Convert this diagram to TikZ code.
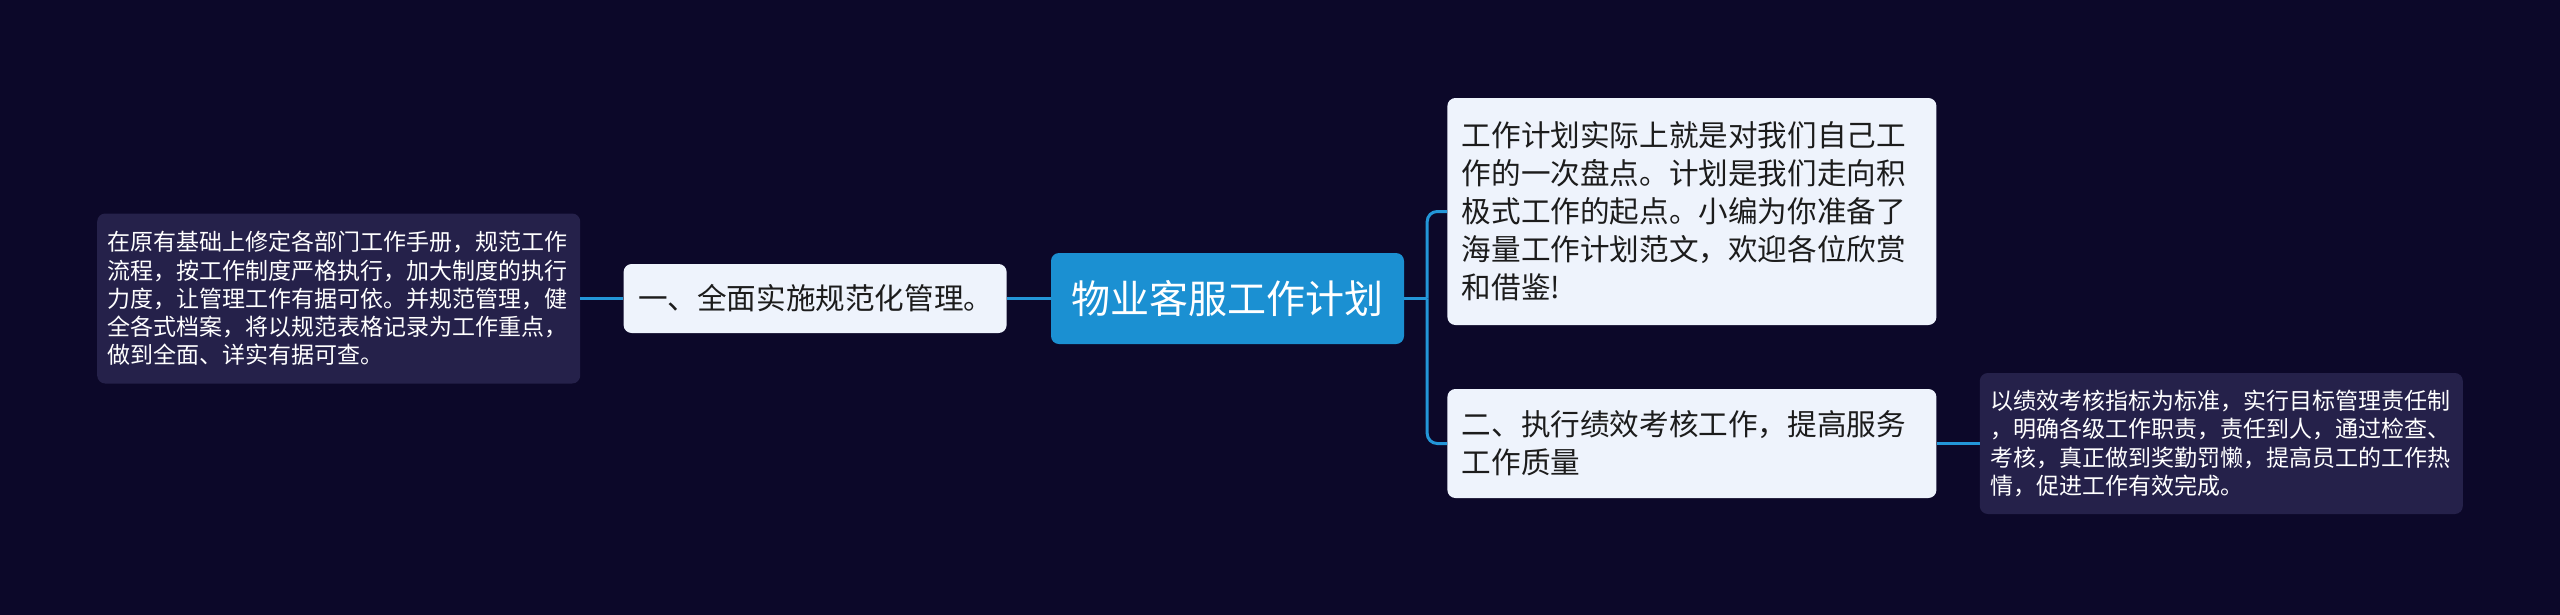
\documentclass[tikz,border=0pt]{standalone}
\usepackage{fontspec}
\setmainfont{Noto Sans CJK SC}
\usepackage{tikz}
\usetikzlibrary{positioning}

\definecolor{bgdark}{HTML}{0C0829}
\definecolor{mainblue}{HTML}{1B90D2}
\definecolor{linkblue}{HTML}{2396D8}
\definecolor{topicfill}{HTML}{EEF3FC}
\definecolor{leaffill}{HTML}{25214A}
\definecolor{topictext}{HTML}{1C1C1C}

\begin{document}
\begin{tikzpicture}[
        x=1pt,
        y=1pt,
        main/.style={
            rectangle,
            rounded corners=8pt,
            fill=mainblue,
            text=white,
            align=center,
            font={\fontsize{39}{46}\selectfont},
            minimum width=353pt,
            minimum height=91pt
        },
        topic/.style={
            rectangle,
            rounded corners=8pt,
            fill=topicfill,
            text=topictext,
            align=left,
            font={\fontsize{29.6}{38}\selectfont},
            text width=460pt,
            inner xsep=14.5pt,
            inner ysep=4pt
        },
        leaf/.style={
            rectangle,
            rounded corners=8pt,
            fill=leaffill,
            text=white,
            align=left,
            font={\fontsize{23}{28.3}\selectfont},
            text width=462pt,
            inner xsep=10.5pt,
            inner ysep=4pt
        },
        link/.style={
            draw=linkblue,
            line width=3pt
        }
    ]

    % background
    \useasboundingbox (0,0) rectangle (2560,-614);
    \fill[bgdark] (-4,4) rectangle (2564,-618);

    % main node
    \node[main] (plan) at (1227.5,-298.5) {物业客服工作计划};

    % left side
    \node[topic, text width=354pt, minimum height=69pt, left=44pt of plan] (norm)
    {一、全面实施规范化管理。};

    \node[leaf, minimum height=170pt, left=43pt of norm] (normleaf)
    {
        在原有基础上修定各部门工作手册，规范工作\\
        流程，按工作制度严格执行，加大制度的执行\\
        力度，让管理工作有据可依。并规范管理，健\\
        全各式档案，将以规范表格记录为工作重点，\\
        做到全面、详实有据可查。
    };

    % right side
    \node[topic, minimum height=227pt, right=43pt of plan, yshift=87pt] (intro)
    {
        工作计划实际上就是对我们自己工\\
        作的一次盘点。计划是我们走向积\\
        极式工作的起点。小编为你准备了\\
        海量工作计划范文，欢迎各位欣赏\\
        和借鉴!
    };

    \node[topic, minimum height=109pt, right=43pt of plan, yshift=-145pt] (perf)
    {
        二、执行绩效考核工作，提高服务\\
        工作质量
    };

    \node[leaf, minimum height=141pt, right=43pt of perf] (perfleaf)
    {
        以绩效考核指标为标准，实行目标管理责任制\\
        ，明确各级工作职责，责任到人，通过检查、\\
        考核，真正做到奖勤罚懒，提高员工的工作热\\
        情，促进工作有效完成。
    };

    % links
    \coordinate (fork) at ([xshift=23pt]plan.east);
    \draw[link] (normleaf) -- (norm);
    \draw[link] (norm) -- (plan);
    \draw[link] (plan) -- (fork);
    \draw[link, rounded corners=10pt] (fork) |- (intro.west);
    \draw[link, rounded corners=10pt] (fork) |- (perf.west);
    \draw[link] (perf) -- (perfleaf);

\end{tikzpicture}
\end{document}
